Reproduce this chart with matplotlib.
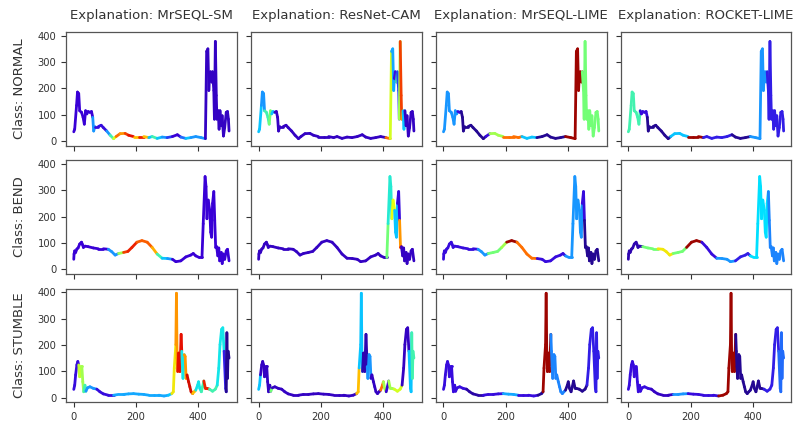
import numpy as np
import matplotlib
matplotlib.use("Agg")
import matplotlib.pyplot as plt
from matplotlib.collections import LineCollection
from matplotlib.colors import LinearSegmentedColormap

# ---------------- data ----------------
columns = ["MrSEQL-SM", "ResNet-CAM", "MrSEQL-LIME", "ROCKET-LIME"]
classes = ["NORMAL", "BEND", "STUMBLE"]

normal_t = [0, 3, 9, 12, 16, 19, 25, 30, 34, 38, 42, 46, 52, 57, 61, 64, 68, 79, 88, 95,
            106, 117, 128, 136, 149, 165, 176, 192, 209, 225, 241, 252, 268, 284, 300, 317,
            333, 344, 360, 376, 392, 409, 423, 427, 431, 434, 436, 439, 443, 446, 450, 452,
            455, 458, 460, 464, 467, 470, 474, 477, 481, 485, 490, 494, 497, 499]
normal_v = [35, 45, 135, 186, 180, 115, 109, 90, 64, 115, 103, 112, 109, 112, 90, 38, 55, 55,
            60, 51, 38, 22, 9, 17, 28, 29, 22, 17, 17, 17, 13, 17, 10, 15, 13, 17, 24, 15, 10,
            13, 17, 13, 9, 340, 350, 192, 237, 263, 224, 263, 192, 83, 378, 173, 83, 115, 45,
            115, 58, 96, 19, 51, 109, 112, 83, 38]

bend_t = [0, 1, 3, 6, 10, 14, 19, 25, 28, 31, 36, 46, 63, 79, 95, 111, 122, 133, 144, 160,
          174, 187, 203, 219, 236, 252, 268, 284, 301, 317, 328, 344, 360, 376, 384, 392,
          403, 412, 416, 422, 425, 428, 432, 437, 440, 443, 446, 450, 453, 456, 459, 463,
          466, 469, 474, 477, 481, 485, 490, 494, 499]
bend_v = [38, 58, 70, 64, 77, 81, 96, 103, 94, 83, 88, 86, 81, 78, 78, 76, 67, 54, 60, 64,
          68, 83, 103, 109, 103, 83, 58, 42, 41, 38, 29, 32, 47, 54, 60, 51, 45, 45, 173,
          352, 314, 192, 263, 224, 141, 122, 250, 295, 186, 83, 86, 51, 81, 32, 64, 22, 58,
          38, 70, 76, 32]

stumble_t = [0, 3, 6, 10, 13, 16, 19, 23, 26, 29, 32, 36, 39, 44, 52, 63, 74, 84, 95, 111,
             128, 144, 160, 176, 192, 209, 225, 241, 257, 273, 290, 304, 315, 320, 323, 328,
             330, 332, 334, 337, 341, 345, 347, 349, 351, 355, 358, 361, 364, 369, 373, 377,
             382, 387, 392, 398, 401, 405, 410, 414, 418, 423, 427, 436, 446, 455, 461, 466,
             470, 475, 479, 483, 488, 490, 492, 494, 496, 499]
stumble_v = [31, 47, 86, 124, 137, 124, 79, 118, 118, 60, 22, 47, 24, 37, 41, 35, 32, 22,
             14, 9, 9, 12, 12, 14, 15, 13, 12, 9, 9, 9, 6, 9, 15, 22, 112, 201, 396, 150, 99,
             169, 99, 240, 176, 118, 73, 163, 156, 73, 86, 60, 41, 22, 15, 22, 28, 47, 60, 35,
             22, 41, 63, 35, 35, 32, 24, 32, 47, 112, 201, 259, 265, 176, 35, 22, 246, 73,
             176, 150]

# explanation weights: step functions (segment start times, weight in [0, 1])
w_normal_sm_bp = [0, 60, 70, 105, 122, 128, 133, 140, 150, 168, 178, 190, 200, 215, 225,
                  238, 248, 262, 280, 300, 320, 345, 360, 380, 420]
w_normal_sm = [0.1, 0.3, 0.12, 0.3, 0.45, 0.6, 0.85, 0.8, 0.75, 0.85, 0.9, 0.65, 0.7, 0.88,
               0.7, 0.35, 0.45, 0.35, 0.3, 0.2, 0.1, 0.25, 0.35, 0.3, 0.08]
w_normal_cam_bp = [0, 8, 22, 36, 44, 52, 412, 424, 428, 436, 444, 448, 452, 455, 460, 464,
                   470]
w_normal_cam = [0.35, 0.3, 0.45, 0.5, 0.35, 0.08, 0.8, 0.6, 0.32, 0.12, 0.45, 0.2, 0.55,
                0.85, 0.75, 0.35, 0.08]
w_normal_mlime_bp = [0, 45, 58, 140, 150, 192, 248, 298, 394, 447]
w_normal_mlime = [0.3, 0.12, 0.03, 0.12, 0.55, 0.8, 0.35, 0.03, 0.97, 0.5]
w_normal_rlime_bp = [0, 40, 62, 141, 195, 243, 333, 397, 447]
w_normal_rlime = [0.45, 0.12, 0.03, 0.35, 0.97, 0.15, 0.03, 0.3, 0.15]

w_bend_sm_bp = [0, 108, 140, 150, 160, 175, 210, 245, 262, 275, 288, 300, 315]
w_bend_sm = [0.1, 0.3, 0.4, 0.55, 0.85, 0.88, 0.82, 0.72, 0.6, 0.45, 0.35, 0.3, 0.1]
w_bend_cam_bp = [0, 410, 419, 427, 436, 446, 452, 457, 461]
w_bend_cam = [0.08, 0.5, 0.42, 0.62, 0.35, 0.12, 0.75, 0.88, 0.08]
w_bend_mlime_bp = [0, 106, 144, 181, 197, 237, 293, 394, 445, 452]
w_bend_mlime = [0.12, 0.3, 0.5, 0.55, 0.97, 0.8, 0.12, 0.3, 0.12, 0.03]
w_bend_rlime_bp = [0, 46, 97, 139, 195, 243, 290, 347, 390, 450]
w_bend_rlime = [0.06, 0.5, 0.65, 0.5, 0.97, 0.12, 0.3, 0.15, 0.38, 0.28]

w_stumble_sm_bp = [0, 15, 24, 32, 40, 75, 120, 300, 316, 326, 334, 348, 355, 364, 382, 392,
                   412, 420, 432, 460, 485, 490]
w_stumble_sm = [0.12, 0.58, 0.55, 0.45, 0.3, 0.12, 0.32, 0.35, 0.65, 0.75, 0.9, 0.4, 0.75,
                0.92, 0.7, 0.4, 0.45, 0.88, 0.45, 0.4, 0.15, 0.03]
w_stumble_cam_bp = [0, 6, 38, 46, 314, 322, 334, 350, 362, 394, 402, 410, 418, 440, 460,
                    484, 492]
w_stumble_cam = [0.35, 0.08, 0.5, 0.08, 0.7, 0.35, 0.06, 0.3, 0.08, 0.8, 0.55, 0.1, 0.55,
                 0.6, 0.08, 0.35, 0.45]
w_stumble_mlime_bp = [0, 74, 128, 191, 245, 298, 319, 346, 394, 460]
w_stumble_mlime = [0.12, 0.05, 0.12, 0.32, 0.12, 0.03, 0.97, 0.28, 0.03, 0.15]
w_stumble_rlime_bp = [0, 70, 150, 195, 290, 346, 440, 485]
w_stumble_rlime = [0.12, 0.08, 0.3, 0.12, 0.97, 0.03, 0.15, 0.25]

series = [(normal_t, normal_v), (bend_t, bend_v), (stumble_t, stumble_v)]
weights = [
    [(w_normal_sm_bp, w_normal_sm), (w_normal_cam_bp, w_normal_cam),
     (w_normal_mlime_bp, w_normal_mlime), (w_normal_rlime_bp, w_normal_rlime)],
    [(w_bend_sm_bp, w_bend_sm), (w_bend_cam_bp, w_bend_cam),
     (w_bend_mlime_bp, w_bend_mlime), (w_bend_rlime_bp, w_bend_rlime)],
    [(w_stumble_sm_bp, w_stumble_sm), (w_stumble_cam_bp, w_stumble_cam),
     (w_stumble_mlime_bp, w_stumble_mlime), (w_stumble_rlime_bp, w_stumble_rlime)],
]

# jet-like colormap with the violet-tinted blues seen in the reference
cmap = LinearSegmentedColormap.from_list("jetv", [
    (0.00, "#1c0a78"), (0.10, "#3a00d8"), (0.20, "#2a3cf4"), (0.30, "#1898ff"),
    (0.38, "#00e0ff"), (0.50, "#70ff78"), (0.62, "#e8ff10"), (0.70, "#ffc000"),
    (0.80, "#ff7000"), (0.90, "#e81000"), (1.00, "#800000")])

# ---------------- plotting ----------------
fig, axes = plt.subplots(3, 4, figsize=(7.93, 4.21), dpi=100, sharex=True, sharey=True)
fig.subplots_adjust(left=0.0832, right=0.998, top=0.924, bottom=0.045, wspace=0.082,
                    hspace=0.13)

text_col = "#333333"
for r in range(3):
    t = np.asarray(series[r][0], dtype=float)
    v = np.asarray(series[r][1], dtype=float)
    pts = np.column_stack([t, v])
    segs = np.stack([pts[:-1], pts[1:]], axis=1)
    mids = 0.5 * (t[:-1] + t[1:])
    for c in range(4):
        ax = axes[r, c]
        bp, w = weights[r][c]
        idx = np.searchsorted(np.asarray(bp), mids, side="right") - 1
        cols = cmap(np.asarray(w)[idx])
        lc = LineCollection(segs, colors=cols, linewidths=2.0, capstyle="round",
                            joinstyle="round")
        ax.add_collection(lc)
        ax.set_xlim(-25, 524)
        ax.set_ylim(-17, 414)
        ax.set_xticks([0, 200, 400])
        ax.set_yticks([0, 100, 200, 300, 400])
        ax.tick_params(labelsize=7.2, colors=text_col, length=3.5, width=0.8)
        for s in ax.spines.values():
            s.set_color("#555555")
            s.set_linewidth(0.9)
        if r == 0:
            ax.set_title("Explanation: " + columns[c], fontsize=9.5, color=text_col, pad=9)
        if c == 0:
            ax.set_ylabel("Class: " + classes[r], fontsize=9.5, color=text_col, labelpad=8)

fig.savefig("out.png", dpi=100, facecolor="white")
